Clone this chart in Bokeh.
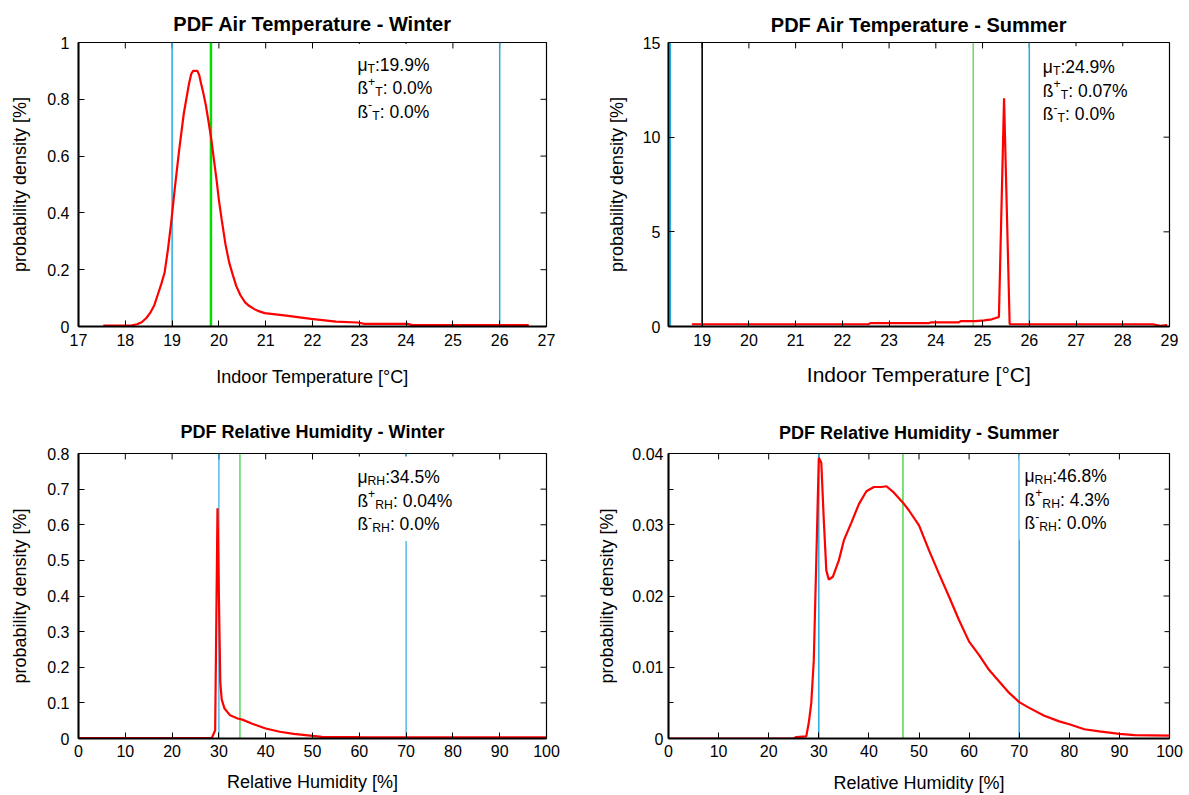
from bokeh.plotting import figure
from bokeh.models import Range1d, FixedTicker, BoxAnnotation, Label
from bokeh.layouts import row, column
from bokeh.embed import file_html
from bokeh.resources import INLINE

FONT = "Liberation Sans"

# ---------------- data ----------------
# Air temperature, winter
tw_x = [17.53, 18.12, 18.25, 18.35, 18.45, 18.54, 18.62, 18.69, 18.77, 18.84, 18.91,
        18.98, 19.06, 19.15, 19.25, 19.36, 19.41, 19.45, 19.54, 19.58, 19.62, 19.67,
        19.72, 19.78, 19.84, 19.9, 19.95, 20.0, 20.06, 20.14, 20.22, 20.3, 20.37,
        20.46, 20.56, 20.65, 20.75, 20.85, 20.98, 21.44, 21.97, 22.5, 22.96, 23.11,
        24.03, 24.14, 26.62]
tw_y = [0.003, 0.003, 0.008, 0.015, 0.03, 0.05, 0.075, 0.11, 0.15, 0.19, 0.27,
        0.365, 0.49, 0.62, 0.75, 0.854, 0.89, 0.90, 0.90, 0.885, 0.855, 0.82,
        0.78, 0.72, 0.656, 0.58, 0.516, 0.445, 0.376, 0.29, 0.225, 0.18, 0.143,
        0.11, 0.085, 0.072, 0.062, 0.054, 0.047, 0.038, 0.027, 0.017, 0.014, 0.009,
        0.009, 0.005, 0.005]
tw_mean = 19.83
tw_limits = [19, 26]
tw_stats = ["19.9", "0.0", "0.0"]

# Air temperature, summer
ts_x = [18.78, 22.56, 22.6, 23.86, 23.9, 24.49, 24.53, 24.85, 25.04, 25.2, 25.35,
        25.46, 25.58, 28.65, 28.8, 28.95]
ts_y = [0.12, 0.12, 0.18, 0.18, 0.22, 0.22, 0.28, 0.28, 0.32, 0.38, 0.5,
        12.05, 0.12, 0.12, 0.03, 0.08]
ts_mean = 24.8
ts_limits = [18.32, 26]
ts_lower = [19]
ts_stats = ["24.9", "0.07", "0.0"]

# Relative humidity, winter
hw_x = [0, 28.5, 29.2, 29.7, 30.3, 30.6, 31.2, 32.4, 34, 35, 37, 40, 43, 46, 50,
        52, 60, 100]
hw_y = [0.001, 0.002, 0.023, 0.646, 0.158, 0.11, 0.084, 0.065, 0.056, 0.053, 0.042,
        0.028, 0.019, 0.013, 0.0074, 0.0047, 0.0037, 0.003]
hw_mean = 34.5
hw_limits = [30, 70]
hw_stats = ["34.5", "0.04", "0.0"]

# Relative humidity, summer
hs_x = [0, 25, 25.5, 27.5, 28, 28.5, 29, 29.5, 30, 30.5, 31, 31.5, 32, 32.8, 34, 35,
        36.5, 38, 39.5, 41, 42.5, 43.5, 45, 46.8, 48, 50, 52, 54, 56, 58, 60, 62, 64,
        66, 68, 70, 72, 75, 78, 80, 83, 86, 90, 93, 100]
hs_y = [0, 0, 0.0002, 0.0003, 0.0022, 0.005, 0.011, 0.025, 0.0394, 0.0387, 0.0306,
        0.0236, 0.0223, 0.0227, 0.025, 0.0278, 0.0303, 0.0329, 0.0347, 0.0353, 0.0353,
        0.0354, 0.0345, 0.0331, 0.032, 0.0299, 0.0264, 0.0231, 0.0199, 0.0166, 0.0136,
        0.0117, 0.0096, 0.0080, 0.0064, 0.0051, 0.0043, 0.0032, 0.0024, 0.0020, 0.0013,
        0.0010, 0.00065, 0.00047, 0.0004]
hs_mean = 46.8
hs_limits = [30, 70]
hs_stats = ["46.8", "4.3", "0.0"]

temp_ticks_w = list(range(17, 28))
temp_ticks_s = list(range(19, 30))
rh_ticks = list(range(0, 101, 10))

BLUE = "#29ABE2"
RED = "#FF0000"
TICK_LEN = 6

# approximate Arial advance widths (em) used to chain text pieces
ADV = {"μ": 0.577, "ß": 0.611, "T": 0.611, "R": 0.722, "H": 0.722, ":": 0.278,
       ".": 0.278, "%": 0.889, " ": 0.278, "+": 0.584, "-": 0.333}


def text_w(s, size):
    return sum(ADV.get(c, 0.556) for c in s) * size


def make_panel(title, title_size, xr, yr, xticks, yticks, xlabel, xlabel_size,
               width, height, borders, frame, stand):
    left, right, top, bottom = borders
    p = figure(width=width, height=height, x_range=Range1d(*xr), y_range=Range1d(*yr),
               output_backend="svg", toolbar_location=None,
               min_border_left=left, min_border_right=right,
               min_border_top=top, min_border_bottom=bottom)
    p.title.text = title
    p.title.text_font = FONT
    p.title.text_font_size = f"{title_size}px"
    p.title.text_font_style = "bold"
    p.title.text_color = "black"
    p.title.align = "center"
    p.title.standoff = stand["title"]
    p.grid.visible = False
    p.outline_line_color = "black"
    p.outline_line_width = 1.2
    p.background_fill_color = "white"
    p.border_fill_color = "white"

    for ax, ticks in ((p.xaxis[0], xticks), (p.yaxis[0], yticks)):
        ax.ticker = FixedTicker(ticks=ticks["major"], minor_ticks=ticks.get("minor", []))
        ax.major_tick_in = TICK_LEN
        ax.major_tick_out = 0
        ax.minor_tick_in = 5 if ticks.get("minor") else 0
        ax.minor_tick_out = 0
        ax.major_tick_line_color = "black"
        ax.minor_tick_line_color = "black"
        ax.axis_line_color = "black"
        ax.axis_line_width = 2
        ax.major_label_text_font = FONT
        ax.major_label_text_font_size = "16px"
        ax.major_label_text_color = "black"
        ax.axis_label_text_font = FONT
        ax.axis_label_text_font_style = "normal"
        ax.axis_label_text_color = "black"
    p.xaxis[0].axis_label = xlabel
    p.xaxis[0].axis_label_text_font_size = f"{xlabel_size}px"
    p.xaxis[0].major_label_standoff = stand["xt"]
    p.xaxis[0].axis_label_standoff = stand["xl"]
    p.yaxis[0].axis_label = "probability density [%]"
    p.yaxis[0].axis_label_text_font_size = "18px"
    p.yaxis[0].major_label_standoff = stand["yt"]
    p.yaxis[0].axis_label_standoff = stand["yl"]
    p.xaxis[0].major_label_overrides = {t: f"{t:g}" for t in xticks["major"]}
    p.yaxis[0].major_label_overrides = {t: f"{t:g}" for t in yticks["major"]}

    # mirrored inward ticks on the top and right borders
    fw, fh = frame
    ppx = fw / (xr[1] - xr[0])
    ppy = fh / (yr[1] - yr[0])
    xt = xticks["major"]
    p.segment(x0=xt, y0=[yr[1]] * len(xt), x1=xt, y1=[yr[1] - TICK_LEN / ppy] * len(xt),
              line_color="black", line_width=1)
    yt = yticks["major"]
    p.segment(x0=[xr[1]] * len(yt), y0=yt, x1=[xr[1] - TICK_LEN / ppx] * len(yt), y1=yt,
              line_color="black", line_width=1)
    ym = yticks.get("minor", [])
    if ym:
        p.segment(x0=[xr[1]] * len(ym), y0=ym, x1=[xr[1] - 5 / ppx] * len(ym), y1=ym,
                  line_color="black", line_width=1)
    return p


def add_limits(p, xs, color, width, yr):
    p.segment(x0=xs, y0=[yr[0]] * len(xs), x1=xs, y1=[yr[1]] * len(xs),
              line_color=color, line_width=width)


def add_stats(p, x, y, sub, stats, frame, xr, yr, size=17.5):
    """Three-line statistics block: mean, exceedance above, exceedance below."""
    fw, fh = frame
    ppx = fw / (xr[1] - xr[0])
    ppy = fh / (yr[1] - yr[0])
    lines = [
        [("μ", "n"), (sub, "sub"), (":" + stats[0] + "%", "n")],
        [("ß", "n"), ("+", "sup"), (sub, "sub"), (": " + stats[1] + "%", "n")],
        [("ß", "n"), ("-", "sup"), (sub, "sub"), (": " + stats[2] + "%", "n")],
    ]
    gap = 23.5
    widest = 0
    for i, parts in enumerate(lines):
        off = 0
        for txt, kind in parts:
            fs = size if kind == "n" else size * 0.7
            dy = 0 if kind == "n" else (-4 if kind == "sub" else 7)
            p.add_layout(Label(x=x, y=y, x_offset=off, y_offset=-gap * i + dy, text=txt,
                               text_font=FONT, text_font_size=f"{fs:.1f}px",
                               text_color="black", text_baseline="alphabetic"))
            off += text_w(txt, fs)
        widest = max(widest, off)
    box = BoxAnnotation(left=x - 5 / ppx, right=x + (widest + 4) / ppx,
                        top=y + 21 / ppy, bottom=y - (2 * gap + 17) / ppy,
                        fill_color="white", fill_alpha=1.0, line_color=None,
                        level="annotation")
    p.renderers.append(box)


# ---------------- panels ----------------
# top-left: air temperature, winter
xr1, yr1, fr1 = (17, 27), (0, 1), (468, 285)
p1 = make_panel("PDF Air Temperature - Winter", 20, xr1, yr1,
                {"major": temp_ticks_w}, {"major": [0, 0.2, 0.4, 0.6, 0.8, 1]},
                "Indoor Temperature [°C]", 18, 594, 397, (78, 48, 42, 70), fr1,
                {"title": 16, "xt": 7, "xl": 18, "yt": 9, "yl": 14})
add_limits(p1, tw_limits, BLUE, 1.5, yr1)
add_limits(p1, [tw_mean], "#00DD00", 2.5, yr1)
p1.line(tw_x, tw_y, line_color=RED, line_width=2.2)
add_stats(p1, 22.96, 0.921, "T", tw_stats, fr1, xr1, yr1)

# top-right: air temperature, summer
xr2, yr2, fr2 = (18.28, 29.0), (0, 15), (501, 287)
p2 = make_panel("PDF Air Temperature - Summer", 20, xr2, yr2,
                {"major": temp_ticks_s}, {"major": [0, 5, 10, 15]},
                "Indoor Temperature [°C]", 21, 595, 397, (74, 20, 39, 71), fr2,
                {"title": 13, "xt": 7, "xl": 14, "yt": 8, "yl": 13})
add_limits(p2, ts_limits, BLUE, 1.5, yr2)
add_limits(p2, ts_lower, "black", 1.6, yr2)
add_limits(p2, [ts_mean], "#77DD66", 1.6, yr2)
p2.line(ts_x, ts_y, line_color=RED, line_width=2.2)
add_stats(p2, 26.29, 13.70, "T", ts_stats, fr2, xr2, yr2)

# bottom-left: relative humidity, winter
xr3, yr3, fr3 = (0, 100), (0, 0.8), (468, 287)
p3 = make_panel("PDF Relative Humidity - Winter", 18, xr3, yr3,
                {"major": rh_ticks}, {"major": [0, 0.1, 0.2, 0.3, 0.4, 0.5, 0.6, 0.7, 0.8]},
                "Relative Humidity [%]", 18, 594, 398, (78, 48, 56, 55), fr3,
                {"title": 23, "xt": 6, "xl": 12, "yt": 9, "yl": 14})
add_limits(p3, hw_limits, BLUE, 1.2, yr3)
add_limits(p3, [hw_mean], "#33CC33", 1.2, yr3)
p3.line(hw_x, hw_y, line_color=RED, line_width=2.2)
add_stats(p3, 59.6, 0.7331, "RH", hw_stats, fr3, xr3, yr3)

# bottom-right: relative humidity, summer
xr4, yr4, fr4 = (0, 100), (0, 0.04), (501, 287)
p4 = make_panel("PDF Relative Humidity - Summer", 18, xr4, yr4,
                {"major": rh_ticks},
                {"major": [0, 0.01, 0.02, 0.03, 0.04], "minor": [0.005, 0.015, 0.025, 0.035]},
                "Relative Humidity [%]", 18, 595, 398, (74, 20, 55, 56), fr4,
                {"title": 22, "xt": 6, "xl": 13, "yt": 5, "yl": 12})
add_limits(p4, hs_limits, BLUE, 1.5, yr4)
add_limits(p4, [hs_mean], "#22CC22", 1.2, yr4)
p4.line(hs_x, hs_y, line_color=RED, line_width=2.2)
add_stats(p4, 71.06, 0.03680, "RH", hs_stats, fr4, xr4, yr4)

layout = column(row(p1, p2), row(p3, p4))
open("out.html", "w").write(file_html(layout, INLINE))
